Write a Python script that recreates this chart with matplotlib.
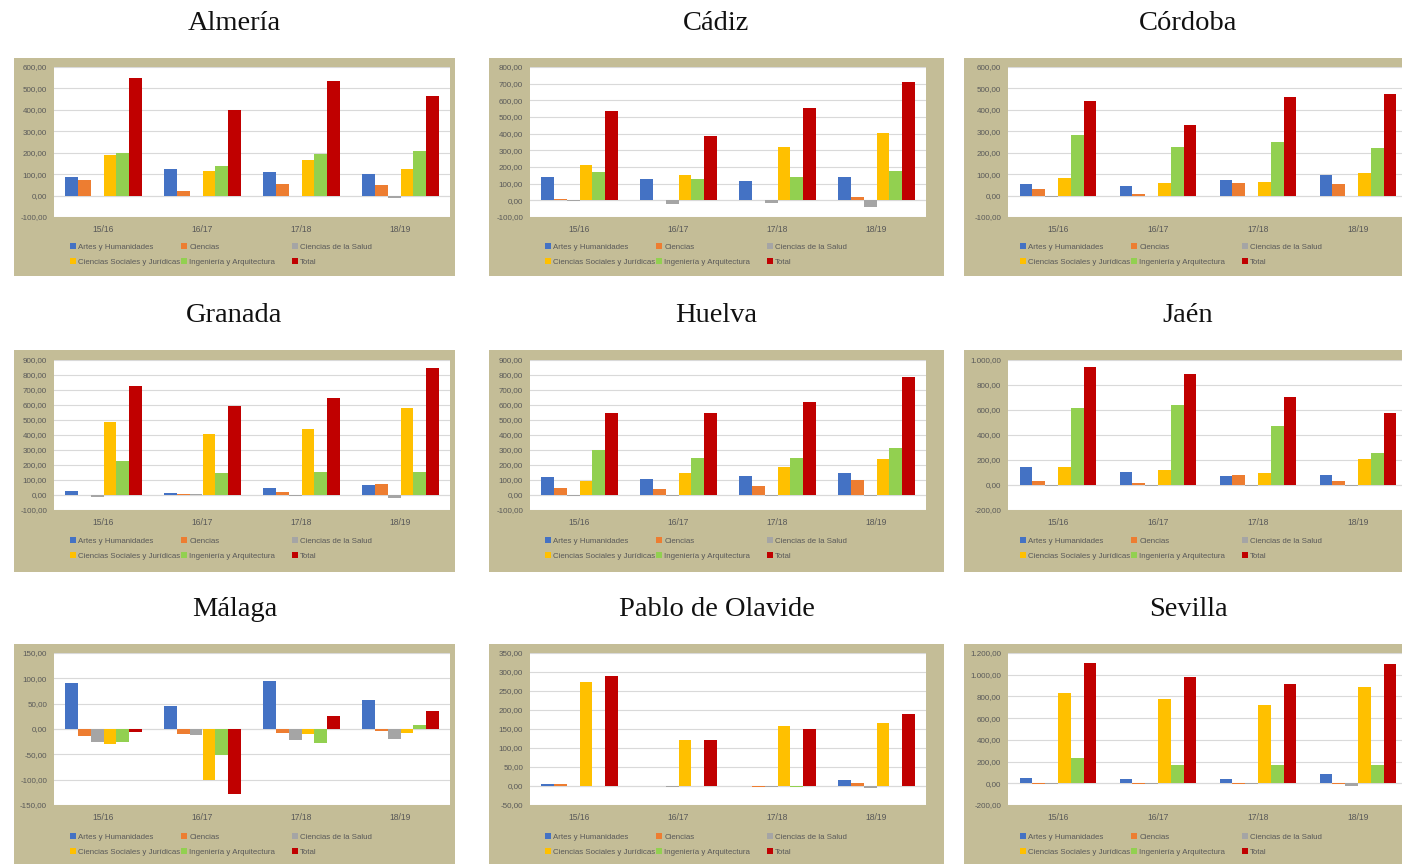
import matplotlib.pyplot as plt
from matplotlib.patches import Rectangle

years = ['15/16', '16/17', '17/18', '18/19']
areas = ['Artes y Humanidades', 'Ciencias', 'Ciencias de la Salud',
         'Ciencias Sociales y Jurídicas', 'Ingeniería y Arquitectura', 'Total']
colores = ['#4472C4', '#ED7D31', '#A5A5A5', '#FFC000', '#92D050', '#C00000']

# una fila por area, una columna por curso
almeria = [[88, 122, 112, 102], [73, 21, 56, 47], [-2, -3, -2, -12],
           [188, 117, 167, 122], [200, 140, 192, 210], [550, 398, 533, 465]]
cadiz = [[142, 128, 116, 142], [8, 1, 5, 20], [-3, -20, -18, -40],
         [213, 152, 320, 403], [172, 128, 140, 178], [535, 385, 555, 712]]
cordoba = [[55, 45, 72, 97], [30, 6, 60, 55], [-8, -4, -1, -3],
           [80, 60, 65, 105], [281, 225, 248, 220], [440, 331, 461, 475]]
granada = [[28, 15, 45, 68], [2, 10, 22, 75], [-15, 8, -8, -22],
           [490, 410, 438, 578], [228, 148, 152, 152], [725, 595, 645, 850]]
huelva = [[118, 110, 130, 145], [50, 42, 60, 97], [-5, -5, -4, -4],
          [95, 145, 185, 240], [300, 250, 250, 315], [550, 550, 622, 785]]
jaen = [[142, 105, 70, 80], [35, 18, 80, 35], [-5, -5, -5, -4],
        [148, 120, 95, 210], [615, 640, 475, 255], [948, 885, 705, 575]]
malaga = [[90, 46, 95, 57], [-13, -10, -8, -3], [-25, -11, -22, -20],
          [-30, -100, -10, -8], [-25, -52, -28, 8], [-6, -128, 26, 35]]
olavide = [[5, 1, 0, 15], [4, -1, -3, 7], [0, -3, -2, -4],
           [275, 120, 157, 166], [0, 0, -2, 0], [290, 120, 151, 189]]
sevilla = [[50, 42, 42, 90], [-10, -10, -10, -10], [-2, -10, -10, -25],
           [835, 775, 725, 885], [230, 168, 168, 168], [1110, 978, 918, 1100]]

W, H = 1402, 864
TAN = '#C4BD97'
GRIS = '#595959'

# columnas: (caja x0, caja x1, grafico x0, grafico x1) en pixeles
cols = [(14, 455, 54, 450), (489, 944, 530, 926), (964, 1412, 1008, 1408)]
# filas: (titulo y, caja y0, caja y1, grafico y0, grafico y1, leyenda y)
rows = [(23, 58, 276, 67, 217, 243), (316, 350, 572, 360, 510, 537),
        (610, 644, 870, 653, 805, 833)]


def fx(x):
    return x / W


def fy(y):
    return 1 - y / H


def es_num(v, pos=None):
    s = f'{v:,.2f}'
    return s.replace(',', 'X').replace('.', ',').replace('X', '.')


def panel(fig, nombre, datos, ymin, ymax, paso, c, r):
    bx0, bx1, px0, px1 = cols[c]
    ty, by0, by1, py0, py1, ly = rows[r]

    fig.patches.append(Rectangle((fx(bx0), fy(by1)), (bx1 - bx0) / W, (by1 - by0) / H,
                                 transform=fig.transFigure, facecolor=TAN,
                                 edgecolor='none', zorder=-1))
    fig.text(fx((bx0 + bx1) / 2), fy(ty), nombre, ha='center', va='center',
             fontsize=20.5, family=['Liberation Serif', 'DejaVu Serif'], color='#111111')

    ax = fig.add_axes([fx(px0), fy(py1), (px1 - px0) / W, (py1 - py0) / H])
    ax.set_facecolor('white')
    w = 0.128
    handles = []
    for i, serie in enumerate(datos):
        xs = [k + (i - 2.5) * w for k in range(len(years))]
        b = ax.bar(xs, serie, width=w, color=colores[i], label=areas[i], zorder=3)
        handles.append(b)

    ax.set_xlim(-0.5, 3.5)
    ax.set_ylim(ymin, ymax)
    ax.set_yticks(list(range(ymin, ymax + 1, paso)))
    ax.yaxis.set_major_formatter(plt.FuncFormatter(es_num))
    ax.set_xticks(range(len(years)))
    ax.set_xticklabels(years)
    ax.grid(axis='y', color='#D9D9D9', linewidth=0.8, zorder=0)
    ax.axhline(0, color='#D9D9D9', linewidth=0.8, zorder=1)
    for s in ax.spines.values():
        s.set_visible(False)
    ax.tick_params(axis='y', length=0, pad=5, labelsize=5.8, labelcolor=GRIS)
    ax.tick_params(axis='x', length=0, pad=6, labelsize=6.2, labelcolor=GRIS)

    # leyenda de Excel: tres columnas de igual ancho, dos filas
    for j in range(3):
        fig.legend([handles[j], handles[j + 3]], [areas[j], areas[j + 3]],
                   loc='upper left', bbox_to_anchor=(fx(bx0 + 56 + j * 111), fy(ly)),
                   ncol=1, frameon=False, fontsize=5.7, labelcolor=GRIS,
                   handlelength=0.7, handleheight=0.7, handletextpad=0.35,
                   labelspacing=0.95, borderpad=0, borderaxespad=0)
    return ax


plt.rcParams['font.family'] = ['Liberation Sans', 'DejaVu Sans']
fig = plt.figure(figsize=(W / 100, H / 100), dpi=100)
fig.patch.set_facecolor('white')

panel(fig, 'Almería', almeria, -100, 600, 100, 0, 0)
panel(fig, 'Cádiz', cadiz, -100, 800, 100, 1, 0)
panel(fig, 'Córdoba', cordoba, -100, 600, 100, 2, 0)
panel(fig, 'Granada', granada, -100, 900, 100, 0, 1)
panel(fig, 'Huelva', huelva, -100, 900, 100, 1, 1)
panel(fig, 'Jaén', jaen, -200, 1000, 200, 2, 1)
panel(fig, 'Málaga', malaga, -150, 150, 50, 0, 2)
panel(fig, 'Pablo de Olavide', olavide, -50, 350, 50, 1, 2)
panel(fig, 'Sevilla', sevilla, -200, 1200, 200, 2, 2)

fig.savefig('out.png', dpi=100)
